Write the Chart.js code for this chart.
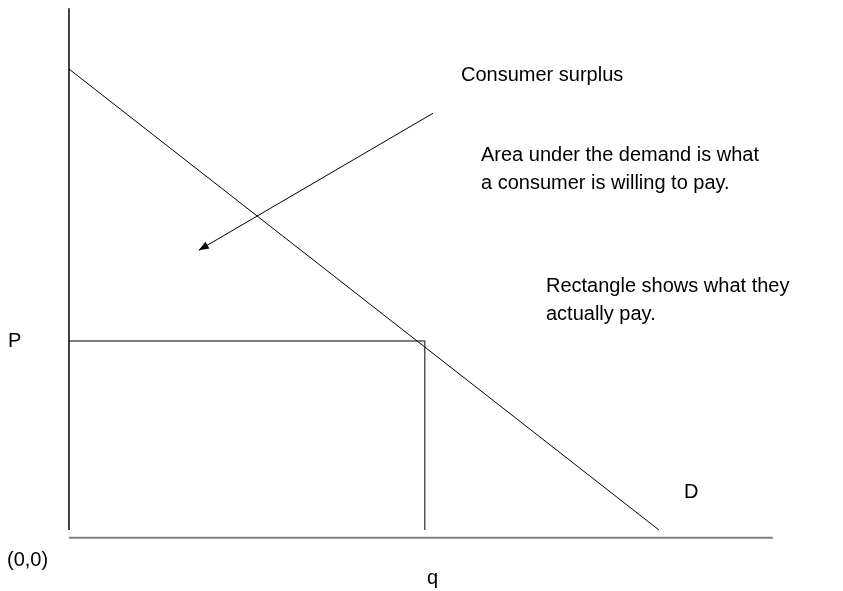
<!DOCTYPE html>
<html>
<head>
<meta charset="utf-8">
<script src="https://cdn.jsdelivr.net/npm/chart.js@4.4.0/dist/chart.umd.min.js"></script>
<style>
  html, body { margin: 0; padding: 0; background: #fff; }
  #wrap { width: 843px; height: 591px; position: relative; }
</style>
</head>
<body>
<div id="wrap"><canvas id="diagram"></canvas></div>
<script>
// demand curve (quantity, price)
const demandQ = [0, 100];
const demandP = [100, 0];

// market point: price P and quantity q
const marketQ = 60.3;
const marketP = 41;

// axes extents
const yAxisTop = 113.2;
const xAxisEnd = 119.3;
const xAxisLevel = -1.7;

// arrow pointing into the consumer surplus area
const arrowQ = [61.7, 22];
const arrowP = [90.4, 60.7];

const pts = (xs, ys) => xs.map((x, i) => ({ x: x, y: ys[i] }));

const line = (data, color, width) => ({
  data: data,
  showLine: true,
  borderColor: color,
  borderWidth: width,
  pointRadius: 0,
  fill: false,
  tension: 0
});

const arrowHead = {
  id: 'arrowHead',
  afterDatasetsDraw(chart) {
    const meta = chart.getDatasetMeta(4);
    const a = meta.data[0], b = meta.data[1];
    const ctx = chart.ctx;
    const ang = Math.atan2(b.y - a.y, b.x - a.x);
    const len = 10, half = 4;
    ctx.save();
    ctx.fillStyle = '#000';
    ctx.beginPath();
    ctx.moveTo(b.x, b.y);
    ctx.lineTo(b.x - len * Math.cos(ang) + half * Math.sin(ang), b.y - len * Math.sin(ang) - half * Math.cos(ang));
    ctx.lineTo(b.x - len * Math.cos(ang) - half * Math.sin(ang), b.y - len * Math.sin(ang) + half * Math.cos(ang));
    ctx.closePath();
    ctx.fill();
    ctx.restore();
  }
};

const labels = {
  id: 'labels',
  afterDraw(chart) {
    const ctx = chart.ctx;
    ctx.save();
    ctx.fillStyle = '#000';
    ctx.font = '20px "Liberation Sans", Arial, sans-serif';
    ctx.textBaseline = 'middle';
    ctx.textAlign = 'left';
    ctx.fillText('Consumer surplus', 461, 75);
    ctx.fillText('Area under the demand is what', 481, 155);
    ctx.fillText('a consumer is willing to pay.', 481, 183);
    ctx.fillText('Rectangle shows what they', 546, 286);
    ctx.fillText('actually pay.', 546, 314);
    ctx.fillText('P', 8, 341);
    ctx.fillText('D', 684, 492);
    ctx.fillText('(0,0)', 7, 560);
    ctx.fillText('q', 427, 578);
    ctx.restore();
  }
};

new Chart(document.getElementById('diagram').getContext('2d'), {
  type: 'scatter',
  data: {
    datasets: [
      line(pts(demandQ, demandP), '#000', 1),
      line([{ x: 0, y: 0 }, { x: 0, y: yAxisTop }], '#000', 1.5),
      line([{ x: 0, y: xAxisLevel }, { x: xAxisEnd, y: xAxisLevel }], '#808080', 2),
      line([{ x: 0, y: marketP }, { x: marketQ, y: marketP }, { x: marketQ, y: 0 }], '#555', 1.5),
      line(pts(arrowQ, arrowP), '#000', 1)
    ]
  },
  options: {
    responsive: true,
    maintainAspectRatio: false,
    animation: false,
    layout: { padding: 0 },
    plugins: { legend: { display: false }, tooltip: { enabled: false } },
    scales: {
      x: { type: 'linear', display: false, min: -11.69, max: 131.19 },
      y: { type: 'linear', display: false, min: -13.23, max: 114.97 }
    }
  },
  plugins: [arrowHead, labels]
});
</script>
</body>
</html>
